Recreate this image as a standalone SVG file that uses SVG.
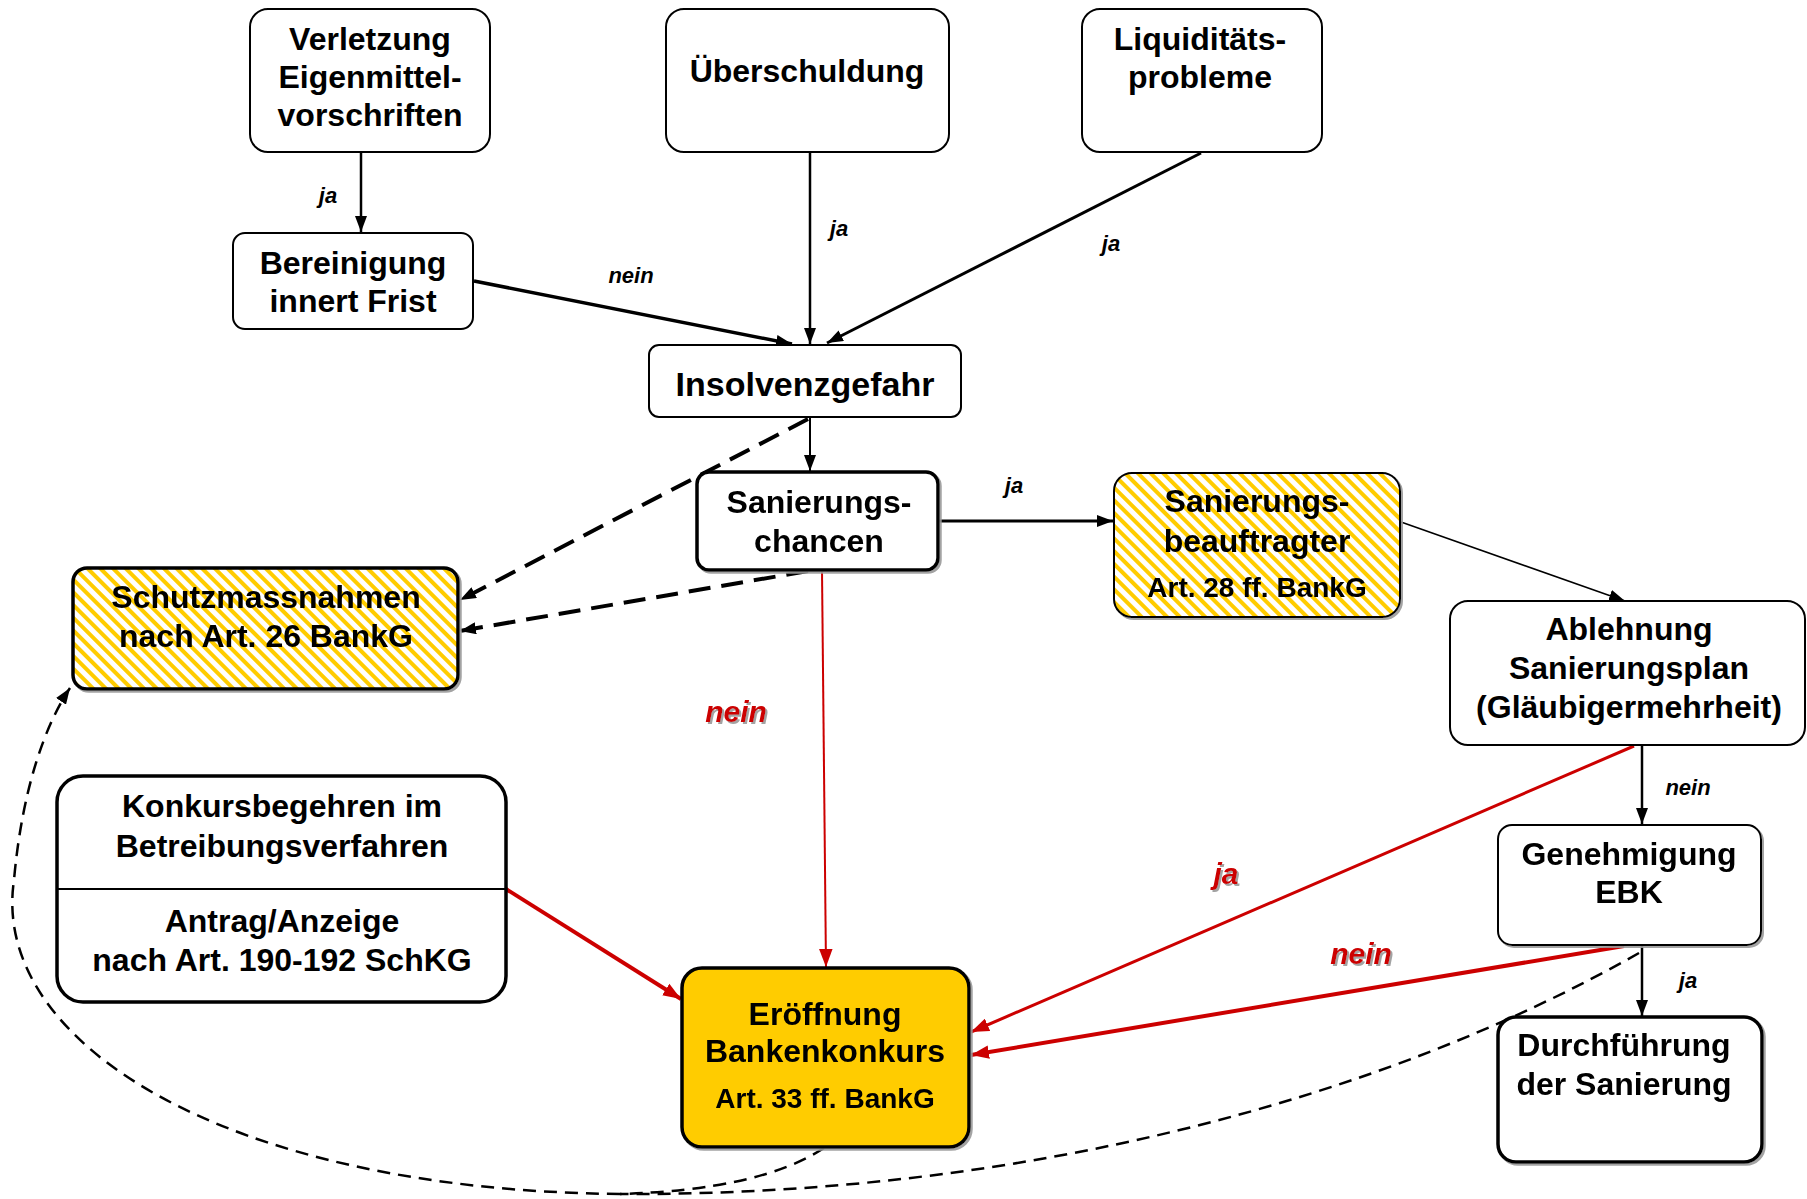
<svg xmlns="http://www.w3.org/2000/svg" width="1807" height="1199" viewBox="0 0 1807 1199">
<defs>
<pattern id="hatch" width="9" height="9" patternUnits="userSpaceOnUse" patternTransform="rotate(-45)">
<rect width="9" height="9" fill="#ffffff"/>
<rect width="4" height="9" fill="#FFCC00"/>
</pattern>
<filter id="sh" x="-5%" y="-5%" width="110%" height="120%">
<feDropShadow dx="2" dy="2" stdDeviation="0.6" flood-color="#999999" flood-opacity="0.9"/>
</filter>
<marker id="ab" viewBox="0 0 16 12" refX="16" refY="6" markerWidth="16" markerHeight="12" markerUnits="userSpaceOnUse" orient="auto">
<path d="M0,0 L16,6 L0,12 Z" fill="#000"/>
</marker>
<marker id="ar" viewBox="0 0 16 12" refX="16" refY="6" markerWidth="18" markerHeight="14" markerUnits="userSpaceOnUse" orient="auto">
<path d="M0,0 L16,6 L0,12 Z" fill="#CC0000"/>
</marker>
</defs>
<style>
.n{fill:#fff;stroke:#000;stroke-width:2}
.t{fill:#fff;stroke:#000;stroke-width:3.5}
.h{fill:url(#hatch);stroke:#000;stroke-width:3.5}
.y{fill:#FFCC00;stroke:#000;stroke-width:3.5}
text{font-family:"Liberation Sans",Arial,sans-serif;font-weight:bold;text-anchor:middle;fill:#000}
.f{font-size:32px}
.s{font-size:28px}
.l{font-size:22px;font-style:italic}
.r{font-size:30px;font-style:italic;fill:#CC0000}
.c{fill:none;stroke:#000}
.cr{fill:none;stroke:#CC0000}
</style>
<g id="connectors">
<line class="c" x1="361" y1="153" x2="361" y2="232" stroke-width="2.5" marker-end="url(#ab)"/>
<line class="c" x1="810" y1="153" x2="810" y2="344" stroke-width="2.5" marker-end="url(#ab)"/>
<line class="c" x1="1201" y1="153" x2="827" y2="343" stroke-width="3" marker-end="url(#ab)"/>
<line class="c" x1="474" y1="281" x2="792" y2="344" stroke-width="3.5" marker-end="url(#ab)"/>
<line class="c" x1="810" y1="418" x2="810" y2="471" stroke-width="2" marker-end="url(#ab)"/>
<line class="c" x1="808" y1="419" x2="460" y2="600" stroke-width="4" stroke-dasharray="22,11" marker-end="url(#ab)"/>
<line class="c" x1="808" y1="571" x2="460" y2="631" stroke-width="4" stroke-dasharray="22,11" marker-end="url(#ab)"/>
<line class="c" x1="939" y1="521" x2="1113" y2="521" stroke-width="3" marker-end="url(#ab)"/>
<line class="c" x1="1401" y1="522" x2="1625" y2="601" stroke-width="1.5" marker-end="url(#ab)"/>
<line class="cr" x1="822" y1="571" x2="826" y2="967" stroke-width="2" marker-end="url(#ar)"/>
<line class="cr" x1="506" y1="889" x2="681" y2="999" stroke-width="4" marker-end="url(#ar)"/>
<line class="cr" x1="1634" y1="746" x2="971" y2="1032" stroke-width="3" marker-end="url(#ar)"/>
<line class="c" x1="1642" y1="746" x2="1642" y2="824" stroke-width="2.5" marker-end="url(#ab)"/>
<line class="cr" x1="1624" y1="946" x2="971" y2="1055" stroke-width="4" marker-end="url(#ar)"/>
<line class="c" x1="1642" y1="946" x2="1642" y2="1016" stroke-width="2.5" marker-end="url(#ab)"/>
<path class="c" d="M1639,953 C1380,1100 1020,1196 620,1194" stroke-width="2.5" stroke-dasharray="13,8"/>
<path class="c" d="M824,1148 Q760,1190 620,1194" stroke-width="2.5" stroke-dasharray="13,8"/>
<path class="c" d="M620,1194 C220,1190 -10,1040 14,880 C22,790 45,725 70,688" stroke-width="2.5" stroke-dasharray="13,8" marker-end="url(#ab)"/>
<text class="l" x="328" y="203">ja</text>
<text class="l" x="839" y="236">ja</text>
<text class="l" x="1111" y="251">ja</text>
<text class="l" x="631" y="283">nein</text>
<text class="l" x="1014" y="493">ja</text>
<text class="r" x="736" y="722" filter="url(#sh)">nein</text>
<text class="r" x="1226" y="884" filter="url(#sh)">ja</text>
<text class="l" x="1688" y="795">nein</text>
<text class="r" x="1361" y="964" filter="url(#sh)">nein</text>
<text class="l" x="1688" y="988">ja</text>
</g>
<g id="verletzung">
<rect class="n" x="250" y="9" width="240" height="143" rx="18"/>
<text class="f" x="370" y="50">Verletzung</text>
<text class="f" x="370" y="88">Eigenmittel-</text>
<text class="f" x="370" y="126">vorschriften</text>
</g>
<g id="ueberschuldung">
<rect class="n" x="666" y="9" width="283" height="143" rx="18"/>
<text class="f" x="807" y="82">Überschuldung</text>
</g>
<g id="liquiditaet">
<rect class="n" x="1082" y="9" width="240" height="143" rx="18"/>
<text class="f" x="1200" y="50">Liquiditäts-</text>
<text class="f" x="1200" y="88">probleme</text>
</g>
<g id="bereinigung">
<rect class="n" x="233" y="233" width="240" height="96" rx="12"/>
<text class="f" x="353" y="274">Bereinigung</text>
<text class="f" x="353" y="312">innert Frist</text>
</g>
<g id="insolvenz">
<rect class="n" x="649" y="345" width="312" height="72" rx="10"/>
<text class="f" x="805" y="396" style="font-size:34px">Insolvenzgefahr</text>
</g>
<g id="sanierungschancen" filter="url(#sh)">
<rect class="t" x="697" y="472" width="241" height="98" rx="12"/>
<text class="f" x="819" y="513">Sanierungs-</text>
<text class="f" x="819" y="552">chancen</text>
</g>
<g id="schutz" filter="url(#sh)">
<rect class="h" x="73" y="568" width="385" height="121" rx="14"/>
<text class="f" x="266" y="608">Schutzmassnahmen</text>
<text class="f" x="266" y="647">nach Art. 26 BankG</text>
</g>
<g id="beauftragter" filter="url(#sh)">
<rect class="h" x="1114" y="473" width="286" height="144" rx="18" style="stroke-width:2"/>
<text class="f" x="1257" y="512">Sanierungs-</text>
<text class="f" x="1257" y="552">beauftragter</text>
<text class="s" x="1257" y="597">Art. 28 ff. BankG</text>
</g>
<g id="ablehnung">
<rect class="n" x="1450" y="601" width="355" height="144" rx="18"/>
<text class="f" x="1629" y="640">Ablehnung</text>
<text class="f" x="1629" y="679">Sanierungsplan</text>
<text class="f" x="1629" y="718">(Gläubigermehrheit)</text>
</g>
<g id="konkursbegehren">
<rect class="t" x="57" y="776" width="449" height="226" rx="26"/>
<line x1="57" y1="889" x2="506" y2="889" stroke="#000" stroke-width="2"/>
<text class="f" x="282" y="817">Konkursbegehren im</text>
<text class="f" x="282" y="857">Betreibungsverfahren</text>
<text class="f" x="282" y="932">Antrag/Anzeige</text>
<text class="f" x="282" y="971">nach Art. 190-192 SchKG</text>
</g>
<g id="eroeffnung" filter="url(#sh)">
<rect class="y" x="682" y="968" width="287" height="179" rx="20"/>
<text class="f" x="825" y="1025">Eröffnung</text>
<text class="f" x="825" y="1062">Bankenkonkurs</text>
<text class="s" x="825" y="1108">Art. 33 ff. BankG</text>
</g>
<g id="genehmigung" filter="url(#sh)">
<rect class="n" x="1498" y="825" width="263" height="120" rx="14"/>
<text class="f" x="1629" y="865">Genehmigung</text>
<text class="f" x="1629" y="903">EBK</text>
</g>
<g id="durchfuehrung" filter="url(#sh)">
<rect class="t" x="1498" y="1017" width="264" height="145" rx="18"/>
<text class="f" x="1624" y="1056">Durchführung</text>
<text class="f" x="1624" y="1095">der Sanierung</text>
</g>
</svg>
